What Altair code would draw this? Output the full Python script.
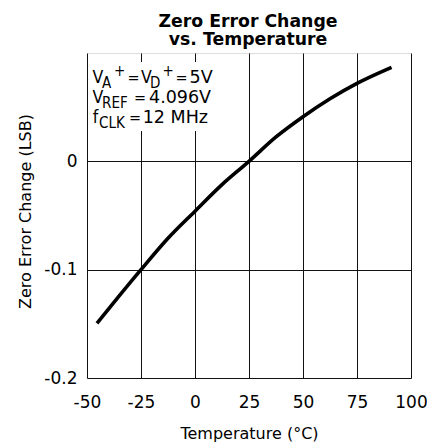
import altair as alt
import pandas as pd

# ---- data ----
temperature_c = [-45.4, -35, -25, -12.5, 0, 12.5, 25, 37.5, 50, 62.5, 75, 91]
zero_error_lsb = [-0.1495, -0.124, -0.1, -0.071, -0.046, -0.0215, 0.0, 0.0225, 0.0412, 0.0578, 0.072, 0.0868]

x_ticks = [-50, -25, 0, 25, 50, 75, 100]
y_ticks = [-0.2, -0.1, 0]

title_lines = ["Zero Error Change", "vs. Temperature"]
x_title = "Temperature (°C)"
y_title = "Zero Error Change (LSB)"

# annotation chunks: (text, role)  role: main / sub / sup / narrow / eq
annotation_text = [
    ("V", "narrow"), ("A", "sub"), ("+", "sup"), ("=", "eq"), ("V", "narrow"), ("D", "sub"), ("+", "sup"), ("=", "eq"), ("5V", "main"),
    ("V", "narrow"), ("REF", "sub"), ("=", "eq"), ("4.096V", "main"),
    ("f", "narrow"), ("CLK", "sub"), ("=", "eq"), ("12 MHz", "main"),
]
# layout positions (plot-area pixels) for each chunk
annotation_pos = [
    (5.5, 30.3), (15, 35.3), (27, 22.5), (40.5, 30.3), (54, 30.3), (63, 35.3), (75.5, 22.5), (88.5, 30.3), (102.5, 30.3),
    (5.5, 50.3), (15, 55.3), (47, 50.3), (62, 50.3),
    (5.7, 69.7), (12, 75.3), (42, 69.7), (55.7, 69.7),
]
role_style = {
    "main": ("DejaVu Sans", 17.5),
    "narrow": ("DejaVu Sans Condensed", 17.5),
    "eq": ("DejaVu Sans Condensed", 16),
    "sub": ("DejaVu Sans Condensed", 15),
    "sup": ("DejaVu Sans Condensed", 15),
}

FONT = "DejaVu Sans"

df = pd.DataFrame({"t": temperature_c, "z": zero_error_lsb})

neg_label = "datum.value < 0 ? '-' + format(-datum.value, '') : format(datum.value, '')"

x_enc = alt.X(
    "t:Q",
    scale=alt.Scale(domain=[-50, 100], nice=False, zero=False),
    axis=alt.Axis(
        values=x_ticks, grid=True, gridColor="#111", gridWidth=1, gridOpacity=1,
        domain=False, ticks=False, tickSize=0, labelFlush=False, labelOverlap=False,
        labelFont=FONT, labelFontSize=17, labelColor="black", labelPadding=16,
        labelExpr=neg_label,
        title=x_title, titleFont=FONT, titleFontSize=16, titleFontWeight="normal", titleColor="black",
        titleX=162, titleY=60, titleBaseline="alphabetic", titleAlign="center",
    ),
)
y_enc = alt.Y(
    "z:Q",
    scale=alt.Scale(domain=[-0.2, 0.1], nice=False, zero=False),
    axis=alt.Axis(
        values=y_ticks, grid=True, gridColor="#111", gridWidth=1, gridOpacity=1,
        domain=False, ticks=False, tickSize=0, labelFlush=False, labelOverlap=False,
        labelFont=FONT, labelFontSize=17, labelColor="black", labelPadding=10,
        labelExpr=neg_label,
        title=y_title, titleFont=FONT, titleFontSize=16, titleFontWeight="normal", titleColor="black",
        titleX=-62, titleY=158, titleAngle=270, titleBaseline="middle", titleAlign="center",
    ),
)

curve = alt.Chart(df).mark_line(color="black", strokeWidth=3.6, interpolate="monotone", strokeCap="butt").encode(
    x=x_enc, y=y_enc
)

one = alt.Data(values=[{"k": 1}])
box = alt.Chart(one).mark_rect(color="white").encode(
    x=alt.value(2), x2=alt.value(133), y=alt.value(9), y2=alt.value(78)
)

texts = []
for (txt, role), (px, py) in zip(annotation_text, annotation_pos):
    f, s = role_style[role]
    texts.append(
        alt.Chart(one).mark_text(
            font=f, fontSize=s, color="black", align="left", baseline="alphabetic"
        ).encode(x=alt.value(px), y=alt.value(py), text=alt.value(txt))
    )

title_y = [-26.3, -8]
titles = [
    alt.Chart(one).mark_text(
        font=FONT, fontSize=17.3, fontWeight="bold", color="black", align="center", baseline="alphabetic"
    ).encode(x=alt.value(161), y=alt.value(ty), text=alt.value(line))
    for line, ty in zip(title_lines, title_y)
]

chart = alt.layer(box, curve, *texts, *titles).properties(
    width=324,
    height=325,
    autosize="none",
    padding={"left": 79, "top": 45, "right": 16, "bottom": 64},
).configure_view(stroke="black", strokeWidth=2).configure(background="white")

chart.save("out.html", embed_options={"renderer": "svg", "actions": False})
